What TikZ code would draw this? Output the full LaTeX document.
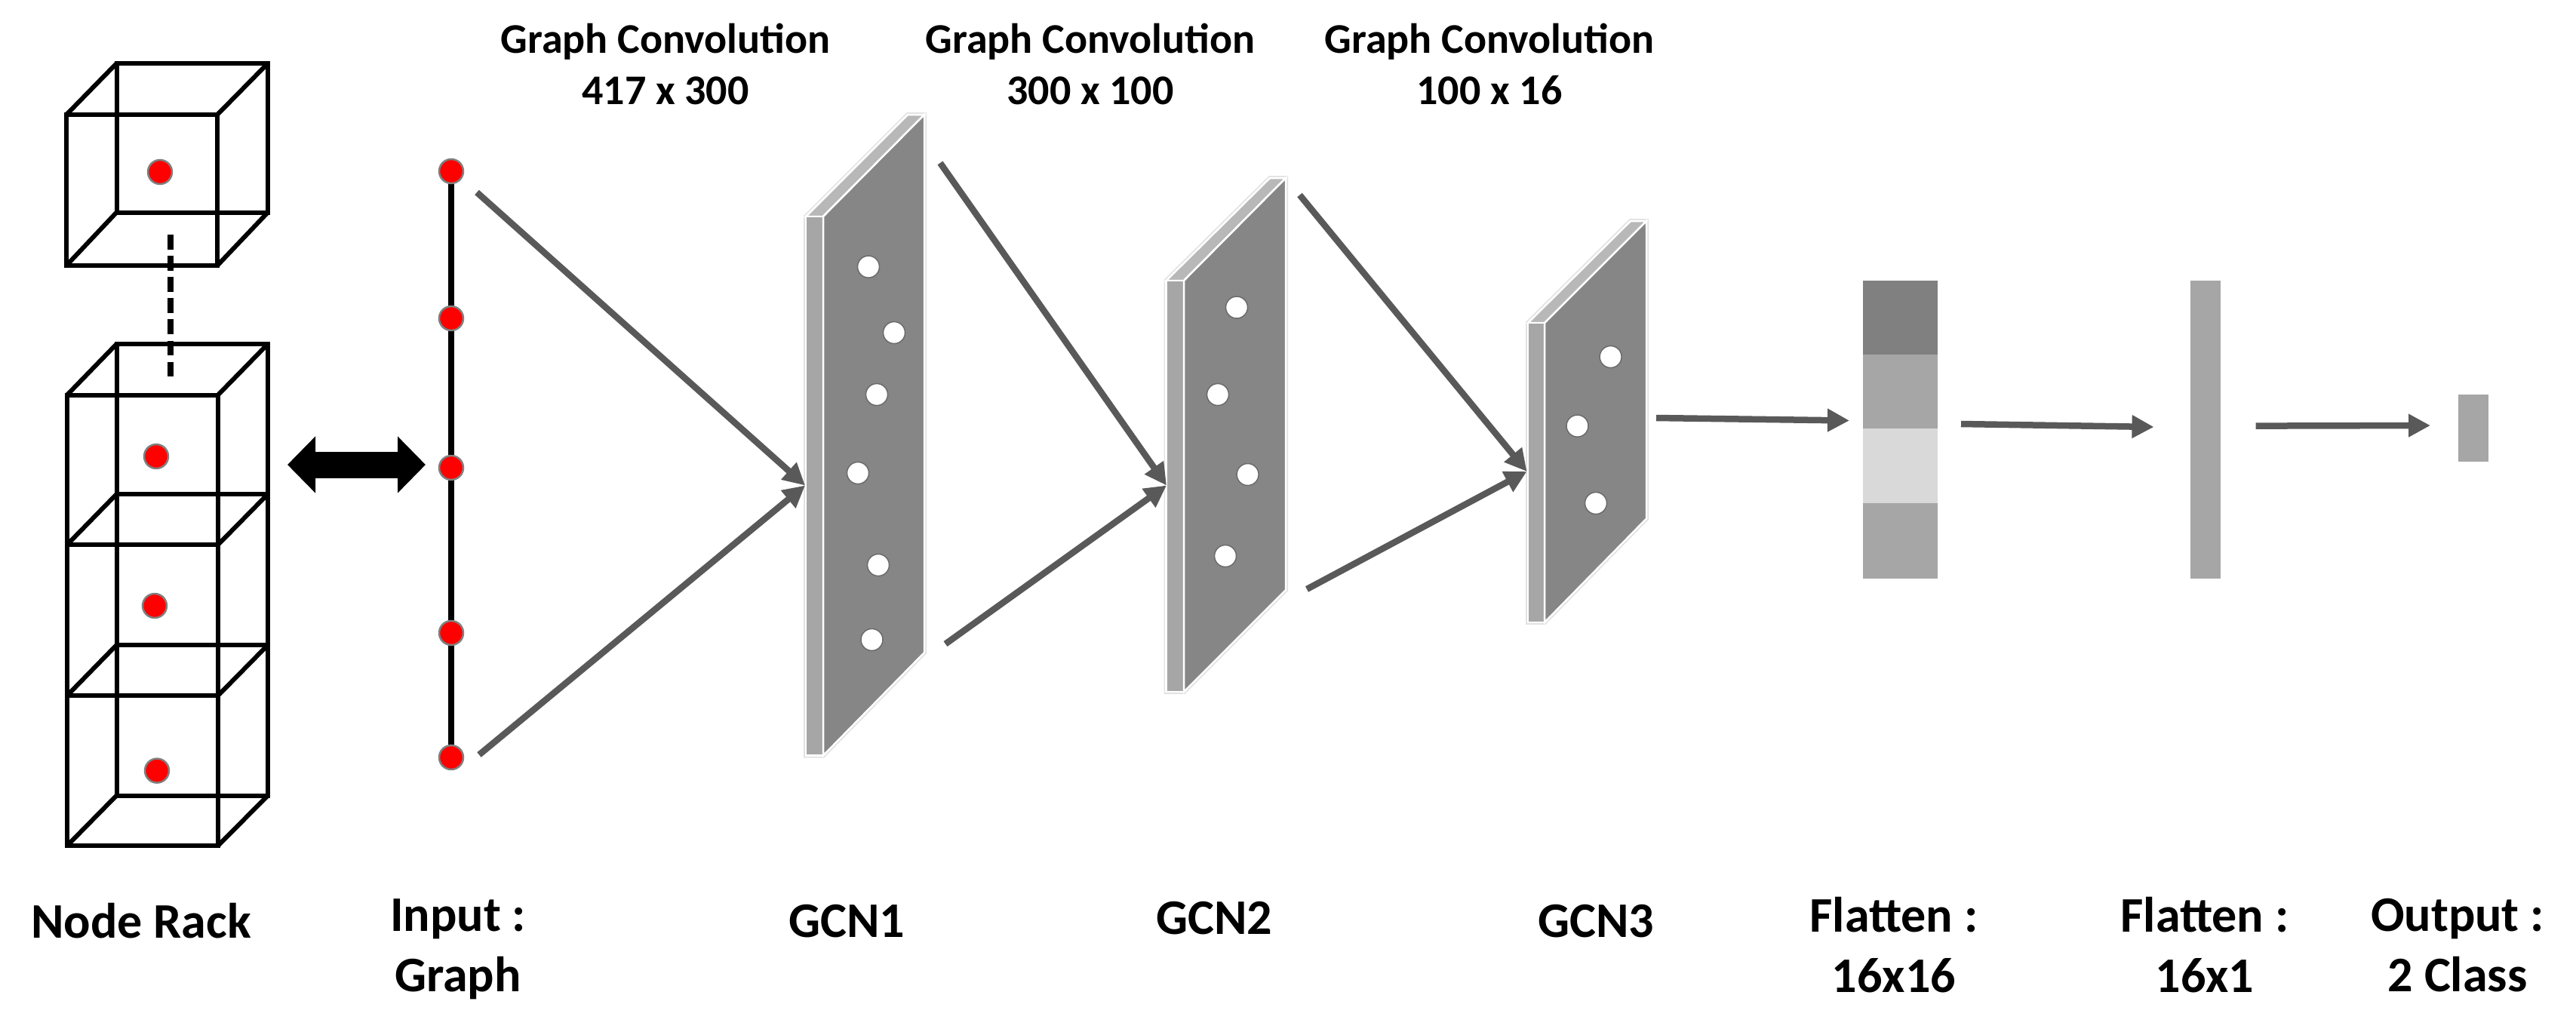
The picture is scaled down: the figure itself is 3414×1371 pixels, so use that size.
\documentclass[tikz,border=0pt]{standalone}
\usepackage{fontspec}
\setmainfont{Carlito}
\usetikzlibrary{arrows.meta}
\definecolor{facegray}{HTML}{868686}
\definecolor{stripgray}{HTML}{A6A6A6}
\definecolor{topgray}{HTML}{B8B8B8}
\definecolor{arrowgray}{HTML}{595959}
\definecolor{edgegray}{HTML}{E2E2E2}
\tikzset{
  wire/.style={draw=black,line width=6pt,line join=miter},
  reddot/.style={circle,fill=red,draw=black!50,line width=2.5pt,minimum size=32pt,inner sep=0pt},
  hole/.style={circle,fill=white,draw=black!58,line width=1.5pt,minimum size=29pt,inner sep=0pt},
  conn/.style={draw=arrowgray,line width=8.5pt,-{Triangle[length=29pt,width=29pt]}},
  label/.style={font=\fontsize{66}{80}\selectfont\bfseries,align=center,text=black,inner sep=0pt},
  toplabel/.style={label,font=\fontsize{56}{68}\selectfont\bfseries},
  faceedge/.style={draw=white,line width=2.5pt,line join=miter},
  outeredge/.style={draw=edgegray,line width=6pt,line join=miter}
}
% front-left, front-right, back-left, back-right, front top, front bottom, back top, back bottom
\newcommand{\gcnlayer}[8]{%
  \path[outeredge] (#1,#5) -- (#3,#7) -- (#4,#7) -- (#4,#8) -- (#2,#6) -- (#1,#6) -- cycle;
  \path[fill=topgray,faceedge] (#1,#5) -- (#3,#7) -- (#4,#7) -- (#2,#5) -- cycle;
  \path[fill=stripgray,faceedge] (#1,#5) rectangle (#2,#6);
  \path[fill=facegray,faceedge] (#2,#5) -- (#4,#7) -- (#4,#8) -- (#2,#6) -- cycle;
}
\begin{document}
\begin{tikzpicture}[x=1pt,y=-1pt]
\useasboundingbox (0,0) rectangle (3414,1371);
% single cube
\path[wire] (88,152) rectangle (288,352);
\path[wire] (154.5,84) rectangle (355,281.5);
\path[wire] (88,152) -- (154.5,84) (288,152) -- (355,84) (88,352) -- (154.5,281.5) (288,352) -- (355,281.5);
\node[reddot] (c0) at (212,228) {};
% stack of cubes
\path[wire] (89,523.5) rectangle (289,1121);
\path[wire] (154.5,456) rectangle (355,1054.5);
\path[wire] (89,722) -- (289,722) (89,922) -- (289,922) (154.5,655) -- (355,655) (154.5,855) -- (355,855);
\path[wire] (89,523.5) -- (154.5,456) (289,523.5) -- (355,456)
  (89,722) -- (154.5,655) (289,722) -- (355,655)
  (89,922) -- (154.5,855) (289,922) -- (355,855)
  (89,1121) -- (154.5,1054.5) (289,1121) -- (355,1054.5);
\node[reddot] (c1) at (207,605) {};
\node[reddot] (c2) at (205,803) {};
\node[reddot] (c3) at (208,1021.6) {};
% dashed link
\coordinate (dashA) at (226,311);
\coordinate (dashB) at (226,499);
\draw[line width=7.5pt,draw=black,dash pattern=on 19.5pt off 8.6pt] (dashA) -- (dashB);
% double arrow
\coordinate (dblA) at (381,616);
\coordinate (dblB) at (564,616);
\draw[draw=black,line width=35pt,{Triangle[length=37pt,width=73pt]}-{Triangle[length=37pt,width=73pt]}] (dblA) -- (dblB);
% input graph
\coordinate (gTop) at (598,227);
\coordinate (gBot) at (598,1004);
\draw[line width=8pt,draw=black] (gTop) -- (gBot);
\node[reddot] (g1) at (598,227) {};
\node[reddot] (g2) at (598,422) {};
\node[reddot] (g3) at (598,620) {};
\node[reddot] (g4) at (598,839) {};
\node[reddot] (g5) at (598,1004) {};
% GCN layers
\gcnlayer{1068}{1091}{1203}{1225}{287}{1001.5}{152}{865}
\foreach \n/\p in {a/{1151,353.6},b/{1185,441},c/{1162,523},d/{1137,627},e/{1164,749},f/{1155.5,848}}
  \node[hole] (h1\n) at (\p) {};
\gcnlayer{1545.5}{1569}{1683}{1704}{372}{917}{236}{782}
\foreach \n/\p in {a/{1639,407.5},b/{1614,523},c/{1653.6,629},d/{1624,737}}
  \node[hole] (h2\n) at (\p) {};
\gcnlayer{2025}{2047}{2161}{2182}{428}{825}{293}{687.5}
\foreach \n/\p in {a/{2134.6,473},b/{2090.5,564.6},c/{2115,667}}
  \node[hole] (h3\n) at (\p) {};
% flatten bars
\fill[fill=black!50] (2469,372) rectangle (2568,470);
\fill[fill=stripgray] (2469,470) rectangle (2568,568);
\fill[fill=black!15] (2469,568) rectangle (2568,666.6);
\fill[fill=stripgray] (2469,666.6) rectangle (2568,766.6);
\fill[fill=stripgray] (2903,372) rectangle (2943,766.6);
\fill[fill=stripgray] (3257.6,523) rectangle (3298,612);
% connector ends
\coordinate (t1) at (1067,643.5);
\coordinate (t2) at (1546,643.5);
\coordinate (t3) at (2023.5,625);
\coordinate (s1a) at (632,255);
\coordinate (s1b) at (635,1000.5);
\coordinate (s2a) at (1246,216);
\coordinate (s2b) at (1253,853.6);
\coordinate (s3a) at (1722.5,258.5);
\coordinate (s3b) at (1732,781);
\draw[conn] (s1a) -- (t1);
\draw[conn] (s1b) -- (t1);
\draw[conn] (s2a) -- (t2);
\draw[conn] (s2b) -- (t2);
\draw[conn] (s3a) -- (t3);
\draw[conn] (s3b) -- (t3);
\coordinate (a1) at (2195,554);
\coordinate (b1) at (2451,557.5);
\coordinate (a2) at (2599,562);
\coordinate (b2) at (2854.5,566);
\coordinate (a3) at (2989.5,564.6);
\coordinate (b3) at (3221,564);
\draw[conn] (a1) -- (b1);
\draw[conn] (a2) -- (b2);
\draw[conn] (a3) -- (b3);
% labels
\node[toplabel] (t417) at (882,85) {Graph Convolution\\417 x 300};
\node[toplabel] (t300) at (1445,85) {Graph Convolution\\300 x 100};
\node[toplabel] (t100) at (1974,85) {Graph Convolution\\100 x 16};
\node[label] (lrack) at (187,1221) {Node Rack};
\node[label] (linput) at (607,1258) {Input :\\Graph};
\node[label] (lg1) at (1122,1221) {GCN1};
\node[label] (lg2) at (1609,1217) {GCN2};
\node[label] (lg3) at (2115,1221) {GCN3};
\node[label] (lf1) at (2510,1253) {Flatten :\\16x16};
\node[label] (lf2) at (2922,1253) {Flatten :\\16x1};
\node[label] (lout) at (3257,1253) {Output :\\2 Class};
\end{tikzpicture}
\end{document}
